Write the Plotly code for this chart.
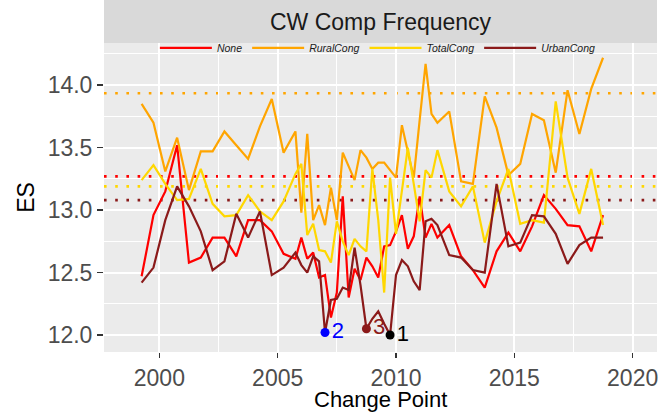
import plotly.graph_objects as go

# ---------------- data ----------------
change_point = [1999.25, 1999.75, 2000.25, 2000.75, 2001.25, 2001.75, 2002.25, 2002.75,
                2003.25, 2003.75, 2004.25, 2004.75, 2005.25, 2005.75,
                2006.0, 2006.25, 2006.5, 2006.75, 2007.0, 2007.25, 2007.5, 2007.75,
                2008.0, 2008.25, 2008.5, 2008.75, 2009.0, 2009.25, 2009.5, 2009.75,
                2010.0, 2010.25, 2010.5, 2010.75, 2011.0, 2011.25, 2011.5, 2011.75,
                2012.25, 2012.75, 2013.25, 2013.75, 2014.25, 2014.75, 2015.25, 2015.75,
                2016.25, 2016.75, 2017.25, 2017.75, 2018.25, 2018.75]

es_none = [12.47, 12.96, 13.15, 13.52, 12.58, 12.62, 12.78, 12.78, 12.63, 12.92, 12.92, 12.83, 12.65, 12.61,
           12.78, 12.61, 12.66, 12.46, 12.48, 12.14, 12.34, 13.11, 12.30, 12.53, 12.44, 12.62,
           12.55, 12.46, 12.71, 12.72, 12.83, 12.96, 12.69, 12.79, 13.11, 12.78, 12.89, 12.78,
           12.88, 12.63, 12.52, 12.38, 12.67, 12.82, 12.67, 12.87, 13.12, 13.01, 12.88, 12.87, 12.67, 12.96]

es_rural = [13.85, 13.70, 13.31, 13.58, 13.16, 13.47, 13.47, 13.63, 13.52, 13.41, 13.67, 13.89, 13.46, 13.63,
            12.98, 13.61, 12.92, 13.04, 12.88, 13.18, 12.92, 13.46, 13.35, 13.24, 13.48, 13.42,
            13.33, 13.38, 13.38, 13.32, 13.26, 13.68, 13.47, 13.26, 13.72, 14.17, 13.77, 13.70,
            13.79, 13.23, 13.21, 13.91, 13.66, 13.28, 13.37, 13.77, 13.72, 13.30, 13.96, 13.61, 13.97, 14.22]

es_total = [13.24, 13.36, 13.21, 13.08, 13.09, 13.33, 13.05, 12.95, 12.96, 13.12, 12.99, 12.92, 13.07, 13.29,
            13.37, 12.80, 12.89, 12.68, 12.67, 12.58, 12.91, 12.75, 12.64, 12.77, 12.71, 12.67,
            13.33, 12.92, 12.34, 13.26, 12.81, 13.16, 13.50, 13.21, 12.91, 13.32, 13.26, 13.48,
            13.15, 13.03, 13.19, 12.74, 13.07, 13.33, 12.89, 12.92, 12.90, 13.87, 13.26, 12.97, 13.33, 12.88]

es_urban = [12.42, 12.54, 12.92, 13.19, 13.03, 12.83, 12.52, 12.59, 12.97, 12.78, 12.99, 12.48, 12.54, 12.66,
            12.56, 12.50, 12.63, 12.59, 12.02, 12.28, 12.29, 12.38, 12.36, 12.70, 12.40, 12.05,
            12.13, 12.19, 12.09, 12.00, 12.48, 12.60, 12.55, 12.43, 12.36, 12.91, 12.93, 12.88,
            12.64, 12.62, 12.52, 12.50, 13.21, 12.71, 12.74, 12.96, 12.95, 12.81, 12.57, 12.72, 12.78, 12.78]

series_names = ["None", "RuralCong", "TotalCong", "UrbanCong"]
series_colors = ["#FF0000", "#FFA500", "#FFD700", "#8B1A1A"]
series_values = [es_none, es_rural, es_total, es_urban]
reference_levels = [13.27, 13.936, 13.19, 13.08]

cp_labels = ["1", "2", "3"]
cp_x = [2009.75, 2007.0, 2008.75]
cp_y = [12.00, 12.02, 12.05]
cp_colors = ["#000000", "#0000FF", "#8B1A1A"]

x_ticks = [2000, 2005, 2010, 2015, 2020]
y_ticks = [12.0, 12.5, 13.0, 13.5, 14.0]

FONT = "Liberation Sans, Arial, sans-serif"

fig = go.Figure()

for name, col, lvl in zip(series_names, series_colors, reference_levels):
    fig.add_hline(y=lvl, line=dict(color=col, width=2.6, dash="2.6px,8.6px"), layer="below")

for name, col, vals in zip(series_names, series_colors, series_values):
    fig.add_trace(go.Scatter(x=change_point, y=vals, mode="lines", name=name,
                             line=dict(color=col, width=2.2)))

fig.add_trace(go.Scatter(x=cp_x, y=cp_y, mode="markers+text", text=cp_labels,
                         textposition="middle right",
                         marker=dict(color=cp_colors, size=9),
                         textfont=dict(color=cp_colors, size=22, family=FONT),
                         showlegend=False, cliponaxis=False))

plot_h = 412 - 43 - 60
fig.add_shape(type="rect", xref="paper", yref="paper", x0=0, x1=1, y0=1, y1=1 + 43 / plot_h,
              fillcolor="#D9D9D9", line=dict(width=0), layer="above")
fig.add_annotation(text="CW Comp Frequency", xref="paper", yref="paper", x=0.5,
                   y=1 + 21.5 / plot_h, showarrow=False, yanchor="middle",
                   font=dict(size=23, color="#1A1A1A", family=FONT))
# x-axis title
fig.add_annotation(text="Change Point", xref="paper", yref="paper", x=0.5, y=0,
                   yanchor="middle", yshift=-47, showarrow=False,
                   font=dict(size=22, color="#000000", family=FONT))

fig.update_layout(
    width=662, height=412,
    margin=dict(l=104, r=5, t=43, b=60, autoexpand=False),
    paper_bgcolor="white", plot_bgcolor="#EBEBEB",
    font=dict(family=FONT),
    hovermode=False,
    legend=dict(orientation="h", x=0.092, xanchor="left", y=0.984, yanchor="middle",
                bgcolor="rgba(0,0,0,0)", font=dict(size=10.5, style="italic", color="#1A1A1A"),
                itemwidth=52),
    xaxis=dict(range=[1997.66, 2021.03], tickvals=x_ticks, ticktext=[str(v) for v in x_ticks],
               showgrid=True, gridcolor="white", gridwidth=2, zeroline=False, automargin=False,
               ticks="outside", ticklen=5, tickwidth=1.5, tickcolor="#333333",
               tickfont=dict(size=23, color="#4D4D4D"),
               minor=dict(dtick=2.5, tick0=2000, showgrid=True, gridcolor="white", gridwidth=1, ticks="")),
    yaxis=dict(range=[11.864, 14.338], tickvals=y_ticks, ticktext=["%.1f" % v for v in y_ticks],
               showgrid=True, gridcolor="white", gridwidth=2, zeroline=False, automargin=False,
               ticks="outside", ticklen=6, tickwidth=1.5, tickcolor="#333333",
               tickfont=dict(size=23, color="#4D4D4D"),
               minor=dict(dtick=0.25, tick0=12, showgrid=True, gridcolor="white", gridwidth=1, ticks=""),
               title=dict(text="ES", font=dict(size=23, color="#000000"), standoff=6)),
)

fig.write_html("out.html", config={"displayModeBar": False, "staticPlot": True},
               post_script="document.body.style.margin='0px';")
